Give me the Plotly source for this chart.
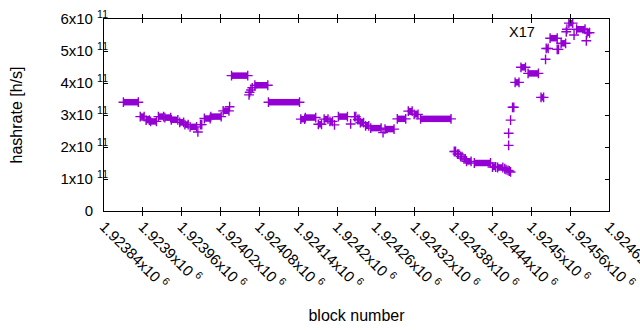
import plotly.graph_objects as go

# ---- data ----
# horizontal runs of points: start block, end block, hashrate [h/s]
run_start = [1923870, 1923896, 1923905, 1923912, 1923924, 1923934, 1923944, 1923957, 1923965, 1923973,
             1923989, 1923995, 1924005, 1924024, 1924037, 1924073, 1924094, 1924144, 1924151, 1924171,
             1924180, 1924189, 1924202, 1924227, 1924232, 1924236, 1924244, 1924252, 1924274, 1924293,
             1924310, 1924319, 1924329, 1924381, 1924386, 1924391, 1924396, 1924400, 1924412, 1924440,
             1924448, 1924471, 1924475, 1924484, 1924495, 1924515, 1924523, 1924529, 1924540, 1924546,
             1924558, 1924570, 1924586]
run_end = [1923893, 1923902, 1923910, 1923921, 1923932, 1923943, 1923954, 1923963, 1923970, 1923983,
           1923991, 1924004, 1924021, 1924033, 1924062, 1924093, 1924142, 1924150, 1924167, 1924176,
           1924186, 1924193, 1924216, 1924229, 1924234, 1924241, 1924249, 1924268, 1924288, 1924306,
           1924316, 1924325, 1924376, 1924383, 1924388, 1924393, 1924398, 1924407, 1924437, 1924445,
           1924456, 1924473, 1924481, 1924491, 1924511, 1924519, 1924526, 1924540, 1924542, 1924553,
           1924564, 1924583, 1924590]
run_value = [3.40e11, 2.95e11, 2.84e11, 2.80e11, 2.95e11, 2.92e11, 2.85e11, 2.77e11, 2.70e11, 2.63e11,
             2.70e11, 2.89e11, 2.95e11, 3.13e11, 4.23e11, 3.93e11, 3.40e11, 2.87e11, 2.92e11, 2.71e11,
             2.87e11, 2.80e11, 2.95e11, 2.95e11, 2.86e11, 2.76e11, 2.66e11, 2.59e11, 2.56e11, 2.88e11,
             3.12e11, 3.02e11, 2.88e11, 1.86e11, 1.78e11, 1.70e11, 1.63e11, 1.55e11, 1.50e11, 1.375e11,
             1.36e11, 3.24e11, 4.02e11, 4.49e11, 4.30e11, 3.55e11, 5.08e11, 5.40e11, 5.05e11, 5.24e11,
             5.87e11, 5.68e11, 5.57e11]

# isolated single points
pt_block = [1923985, 1924034, 1924064, 1924065, 1924067, 1924069, 1924196, 1924221, 1924271,
            1924459, 1924461, 1924464, 1924466, 1924468, 1924465, 1924465, 1924468,
            1924522, 1924554, 1924555, 1924566, 1924585]
pt_value = [2.47e11, 3.26e11, 3.63e11, 3.71e11, 3.78e11, 3.85e11, 2.69e11, 2.72e11, 2.45e11,
            1.32e11, 1.29e11, 1.27e11, 1.25e11, 1.22e11, 2.05e11, 2.43e11, 2.84e11,
            4.74e11, 5.60e11, 5.68e11, 5.50e11, 5.32e11]

x_tick_vals = [1923840 + 60 * k for k in range(14)]
x_tick_text = ["1.92384", "1.9239", "1.92396", "1.92402", "1.92408", "1.92414", "1.9242",
               "1.92426", "1.92432", "1.92438", "1.92444", "1.9245", "1.92456", "1.92462"]
y_tick_vals = [1e11, 2e11, 3e11, 4e11, 5e11, 6e11]
y_tick_text = ["1x10 <sup>11</sup>", "2x10 <sup>11</sup>", "3x10 <sup>11</sup>",
               "4x10 <sup>11</sup>", "5x10 <sup>11</sup>", "6x10 <sup>11</sup>"]
y_zero_val = [0]
y_zero_text = ["0"]

COLOR = "#9400D3"
FONT = "Liberation Sans, Arial, sans-serif"

lx, ly = [], []
for s, e, v in zip(run_start, run_end, run_value):
    lx += [s, e, None]
    ly += [v, v, None]

mx = list(run_start) + list(run_end) + list(pt_block)
my = list(run_value) + list(run_value) + list(pt_value)

fig = go.Figure()
fig.add_trace(go.Scatter(x=lx, y=ly, mode="lines", line=dict(color=COLOR, width=6.5),
                         hoverinfo="skip", showlegend=False))
fig.add_trace(go.Scatter(x=mx, y=my, mode="markers",
                         marker=dict(symbol="cross-thin", size=7, color=COLOR,
                                     line=dict(color=COLOR, width=1.4)),
                         showlegend=False))

fig.add_annotation(x=1924462, y=5.6e11, text="X17", showarrow=False, xanchor="left",
                   yanchor="middle", font=dict(family=FONT, size=14.5, color="black"))

axis_common = dict(showline=True, linecolor="black", linewidth=1, mirror="allticks",
                   ticks="inside", ticklen=4, tickcolor="black", tickwidth=1,
                   showgrid=False, zeroline=False, automargin=False,
                   tickfont=dict(family=FONT, size=15, color="black"))

fig.update_xaxes(range=[1923840, 1924620], tickvals=x_tick_vals,
                 ticktext=[t + "x10 <sup>6</sup>" for t in x_tick_text], tickangle=45,
                 ticklabeloverflow="allow",
                 title=dict(text="block number", font=dict(family=FONT, size=16, color="black"),
                            standoff=18),
                 **axis_common)
fig.update_yaxes(range=[0, 6e11], tickvals=y_tick_vals, ticktext=y_tick_text,
                 ticklabelstandoff=-8,
                 title=dict(text="hashrate [h/s]", font=dict(family=FONT, size=16, color="black"),
                            standoff=33),
                 **axis_common)

# separate overlay axis carrying only the "0" label (plain text, no superscript)
fig.update_layout(yaxis2=dict(overlaying="y", side="left", range=[0, 6e11],
                              tickvals=y_zero_val, ticktext=y_zero_text, ticks="",
                              showline=False, showgrid=False, zeroline=False, automargin=False,
                              ticklabelstandoff=10,
                              tickfont=dict(family=FONT, size=15, color="black")))
fig.add_trace(go.Scatter(x=[None], y=[None], yaxis="y2", showlegend=False, hoverinfo="skip"))

fig.update_layout(template="none", width=640, height=330,
                  margin=dict(l=104, r=31, t=19, b=119, autoexpand=False),
                  paper_bgcolor="white", plot_bgcolor="white",
                  font=dict(family=FONT, size=15, color="black"))

fig.write_html("out.html", config={"displayModeBar": False},
               post_script="document.body.style.margin='0';document.body.style.overflow='hidden';")
